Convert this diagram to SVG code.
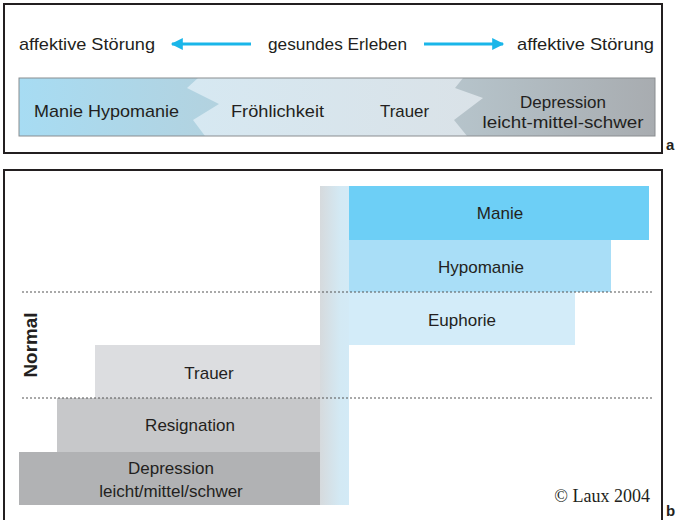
<svg xmlns="http://www.w3.org/2000/svg" width="682" height="520" viewBox="0 0 682 520">
<style>
text{font-family:"Liberation Sans",Arial,sans-serif;fill:#231f20}
.t{font-size:17px}
.c{text-anchor:middle}
.lbl{font-size:15px;font-weight:bold}
.frame{fill:none;stroke:#231f20;stroke-width:2}
.dot{stroke:#555;stroke-width:1.2;stroke-dasharray:2 2;fill:none}
.arr{stroke:#1ab6e9;stroke-width:3;fill:none}
</style>
<defs>
<linearGradient id="gBlue" x1="0" x2="1" y1="0" y2="0"><stop offset="0" stop-color="#a7dcf3"/><stop offset="1" stop-color="#b3d2df"/></linearGradient>
<linearGradient id="gMid" x1="0" x2="1" y1="0" y2="0"><stop offset="0" stop-color="#d4ecf8"/><stop offset="1" stop-color="#dcdee1"/></linearGradient>
<linearGradient id="gGray" x1="0" x2="1" y1="0" y2="0"><stop offset="0" stop-color="#b6c4cb"/><stop offset="1" stop-color="#a8acb0"/></linearGradient>
<linearGradient id="gCol" x1="0" x2="1" y1="0" y2="0"><stop offset="0" stop-color="#d6dadd"/><stop offset="0.7" stop-color="#d3e9f4"/><stop offset="1" stop-color="#d3eaf6"/></linearGradient>
<marker id="ah" viewBox="0 0 10 10" refX="9" refY="5" markerWidth="6" markerHeight="4" orient="auto-start-reverse" markerUnits="strokeWidth"><path d="M0,0 L10,5 L0,10 Z" fill="#1ab6e9"/></marker>
</defs>

<!-- Part a -->
<g id="frame-a"><rect class="frame" x="4" y="4" width="658" height="149"/></g>
<text class="lbl" x="666" y="150">a</text>

<g id="node-left-stoerung"><text class="t" x="19" y="50" textLength="136" lengthAdjust="spacingAndGlyphs">affektive Störung</text></g>
<g id="node-gesund"><text class="t" x="268" y="50" textLength="139" lengthAdjust="spacingAndGlyphs">gesundes Erleben</text></g>
<g id="node-right-stoerung"><text class="t" x="517" y="50" textLength="137" lengthAdjust="spacingAndGlyphs">affektive Störung</text></g>

<g id="connectors">
<line class="arr" x1="251" y1="44" x2="172" y2="44" marker-end="url(#ah)"/>
<line class="arr" x1="424" y1="44" x2="503" y2="44" marker-end="url(#ah)"/>
</g>

<g id="bar">
<rect x="19" y="78" width="636" height="58" fill="url(#gMid)"/>
<polygon points="19,78 198,78 187,88 219,104 193,120 205,136 19,136" fill="url(#gBlue)"/>
<polygon points="463,78 455,88 483,98 454,120 467,136 655,136 655,78" fill="url(#gGray)"/>
<rect x="19" y="78" width="636" height="58" fill="none" stroke="#8a8d90" stroke-width="1"/>
</g>
<g id="node-manie-hypo"><text class="t" x="34" y="117" textLength="145" lengthAdjust="spacingAndGlyphs">Manie Hypomanie</text></g>
<g id="node-froehlich"><text class="t" x="231" y="117" textLength="93" lengthAdjust="spacingAndGlyphs">Fröhlichkeit</text></g>
<g id="node-trauer-a"><text class="t" x="380" y="117" textLength="49" lengthAdjust="spacingAndGlyphs">Trauer</text></g>
<g id="node-depression-a">
<text class="t c" x="563" y="108">Depression</text>
<text class="t c" x="563" y="128" textLength="161" lengthAdjust="spacingAndGlyphs">leicht-mittel-schwer</text>
</g>

<!-- Part b -->
<g id="frame-b"><rect class="frame" x="4" y="170" width="658" height="380"/></g>
<text class="lbl" x="666" y="516">b</text>

<g id="column"><rect x="320" y="186" width="29" height="319" fill="url(#gCol)"/></g>

<g id="node-manie"><rect x="349" y="186" width="300" height="54" fill="#6dcff6"/><text class="t c" x="500" y="219">Manie</text></g>
<g id="node-hypomanie"><rect x="349" y="240" width="262" height="52" fill="#a9def7"/><text class="t c" x="481" y="273">Hypomanie</text></g>
<g id="node-euphorie"><rect x="349" y="292" width="226" height="53" fill="#d3ecf9"/><text class="t c" x="462" y="326">Euphorie</text></g>
<g id="node-trauer"><rect x="95" y="345" width="225" height="53" fill="#dcdde0"/><text class="t c" x="209" y="379">Trauer</text></g>
<g id="node-resignation"><rect x="57" y="398" width="263" height="54" fill="#c7c8ca"/><text class="t c" x="190" y="431">Resignation</text></g>
<g id="node-depression"><rect x="19" y="452" width="301" height="53" fill="#b1b2b4"/><text class="t c" x="171" y="474">Depression</text><text class="t c" x="171" y="497">leicht/mittel/schwer</text></g>

<g id="dotted">
<line class="dot" x1="22" y1="292" x2="652" y2="292"/>
<line class="dot" x1="22" y1="398" x2="652" y2="398"/>
</g>

<text x="37" y="345" transform="rotate(-90 37 345)" text-anchor="middle" font-size="18" font-weight="bold" textLength="65" lengthAdjust="spacingAndGlyphs">Normal</text>

<text x="650" y="502" text-anchor="end" font-size="18" style="font-family:'Liberation Serif','Times New Roman',serif">© Laux 2004</text>
</svg>
